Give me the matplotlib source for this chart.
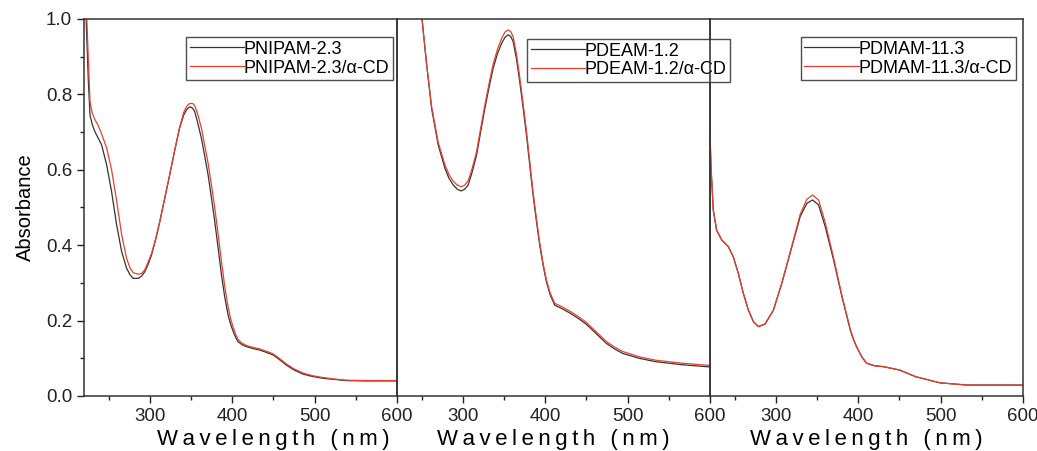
import numpy as np
import matplotlib.pyplot as plt
from matplotlib.ticker import MultipleLocator

plt.rcParams['font.family'] = ['Liberation Sans', 'DejaVu Sans']

# PNIPAM-2.3 (panel 1)
wl_a = [220, 222.4, 225.3, 227.3, 230, 233.3, 237, 241.4, 247.5, 253.5, 259.6, 265.7,
        271.7, 276, 279.8, 285.9, 290, 293.9, 298, 302, 307, 312, 318, 324, 330, 336,
        341, 344.5, 347, 349.3, 352, 354.5, 358, 362.6, 366.5, 370.7, 374.7, 378.8,
        382.8, 386.9, 390.9, 394.9, 398, 401, 404, 407, 412, 417, 425, 433, 441,
        449.5, 457, 465.7, 475, 485.9, 497, 510, 524, 538, 560, 580, 600]
pnipam = [1.10, 1.01, 0.834, 0.745, 0.72, 0.701, 0.685, 0.666, 0.613, 0.542, 0.454,
          0.383, 0.339, 0.321, 0.312, 0.312, 0.318, 0.330, 0.350, 0.374, 0.415, 0.462,
          0.524, 0.586, 0.650, 0.710, 0.745, 0.759, 0.765, 0.767, 0.763, 0.754, 0.725,
          0.683, 0.637, 0.586, 0.526, 0.462, 0.393, 0.321, 0.262, 0.215, 0.19, 0.172,
          0.156, 0.144, 0.136, 0.131, 0.126, 0.122, 0.116, 0.109, 0.097, 0.082, 0.069,
          0.058, 0.052, 0.047, 0.044, 0.041, 0.040, 0.040, 0.040]
pnipam_cd = [1.15, 1.06, 0.89, 0.78, 0.75, 0.733, 0.719, 0.695, 0.658, 0.600, 0.518,
             0.428, 0.365, 0.339, 0.327, 0.323, 0.325, 0.335, 0.356, 0.378, 0.417, 0.463,
             0.525, 0.587, 0.651, 0.712, 0.752, 0.768, 0.774, 0.776, 0.776, 0.770, 0.748,
             0.710, 0.665, 0.617, 0.560, 0.498, 0.430, 0.357, 0.290, 0.237, 0.205, 0.183,
             0.164, 0.150, 0.140, 0.134, 0.129, 0.125, 0.119, 0.112, 0.100, 0.085, 0.072,
             0.061, 0.054, 0.049, 0.045, 0.042, 0.041, 0.041, 0.041]

# PDEAM-1.2 (panel 2)
wl_b = [220, 230, 240, 245, 249.9, 256, 262, 270, 278.2, 283, 288.2, 293, 297.6, 302,
        306.4, 311, 316.6, 321.5, 326.7, 331.7, 336.7, 342, 346.9, 351, 354.9, 358,
        361, 365, 369, 373, 377.2, 381.2, 385.2, 389.3, 393.3, 397.4, 401.4, 406,
        411.5, 420, 430, 440, 450, 462, 474, 484, 494, 514, 534, 566, 600]
pdeam = [1.65, 1.45, 1.23, 1.12, 1.01, 0.878, 0.763, 0.666, 0.604, 0.578, 0.560, 0.549,
         0.544, 0.548, 0.560, 0.592, 0.639, 0.700, 0.763, 0.818, 0.869, 0.908, 0.935,
         0.951, 0.958, 0.954, 0.940, 0.895, 0.834, 0.766, 0.692, 0.612, 0.533, 0.463,
         0.400, 0.346, 0.303, 0.268, 0.241, 0.232, 0.220, 0.206, 0.190, 0.165, 0.140,
         0.125, 0.113, 0.100, 0.091, 0.083, 0.077]
pdeam_cd = [1.65, 1.45, 1.23, 1.12, 1.01, 0.880, 0.768, 0.673, 0.613, 0.588, 0.570, 0.560,
            0.555, 0.559, 0.571, 0.602, 0.648, 0.709, 0.772, 0.828, 0.880, 0.920, 0.948,
            0.965, 0.971, 0.967, 0.953, 0.908, 0.846, 0.777, 0.702, 0.621, 0.541, 0.470,
            0.406, 0.351, 0.308, 0.273, 0.246, 0.237, 0.225, 0.211, 0.195, 0.170, 0.145,
            0.130, 0.118, 0.104, 0.095, 0.087, 0.081]

# PDMAM-11.3 (panel 3)
wl_c = [220, 221.2, 224, 228, 234.2, 242.3, 248.3, 254.4, 260.5, 266.6, 272.7, 278.8,
        286.9, 297, 307.2, 319.4, 329.5, 337.6, 344.5, 351.8, 359.9, 370, 380.2, 390.3,
        394.3, 398, 404, 410, 420, 430, 450, 470, 499, 532, 600]
pdmam = [0.697, 0.608, 0.493, 0.440, 0.414, 0.396, 0.369, 0.325, 0.272, 0.228, 0.197,
         0.184, 0.191, 0.228, 0.299, 0.396, 0.476, 0.511, 0.520, 0.507, 0.449, 0.361,
         0.263, 0.175, 0.149, 0.130, 0.105, 0.087, 0.080, 0.078, 0.069, 0.051, 0.035,
         0.029, 0.029]
pdmam_cd = [0.697, 0.608, 0.493, 0.440, 0.414, 0.396, 0.369, 0.325, 0.272, 0.228, 0.197,
            0.184, 0.191, 0.228, 0.300, 0.398, 0.482, 0.522, 0.533, 0.520, 0.460, 0.367,
            0.266, 0.177, 0.150, 0.131, 0.105, 0.087, 0.080, 0.078, 0.069, 0.051, 0.035,
            0.029, 0.029]

panels = [
    (wl_a, pnipam, pnipam_cd, 'PNIPAM-2.3', 'PNIPAM-2.3/\u03b1-CD', 'upper right', (0.987, 0.952)),
    (wl_b, pdeam, pdeam_cd, 'PDEAM-1.2', 'PDEAM-1.2/\u03b1-CD', 'upper left', (0.415, 0.947)),
    (wl_c, pdmam, pdmam_cd, 'PDMAM-11.3', 'PDMAM-11.3/\u03b1-CD', 'upper left', (0.29, 0.952)),
]
label_x = [0.605, 0.5, 0.5]

fig = plt.figure(figsize=(10.37, 4.51), dpi=100)
lefts = [84, 397, 710]
for i, (wl, a, b, la, lb, loc, anchor) in enumerate(panels):
    ax = fig.add_axes([lefts[i] / 1037, (451 - 396) / 451, 313 / 1037, 377 / 451])
    ax.patch.set_alpha(0)
    ax.plot(wl, a, color='#333333', lw=0.9, label=la)
    ax.plot(wl, b, color='#e8402f', lw=0.9, label=lb)
    ax.set_xlim(220, 600)
    ax.set_ylim(0, 1.0)
    ax.xaxis.set_major_locator(MultipleLocator(100))
    ax.xaxis.set_minor_locator(MultipleLocator(50))
    ax.yaxis.set_major_locator(MultipleLocator(0.2))
    ax.yaxis.set_minor_locator(MultipleLocator(0.1))
    ax.tick_params(which='both', direction='out', labelsize=13.5, colors='#222222')
    ax.tick_params(which='major', length=5, width=1)
    ax.tick_params(which='minor', length=3, width=1)
    for s in ax.spines.values():
        s.set_color('#333333')
        s.set_linewidth(1.1)
    if i == 0:
        ax.yaxis.set_major_formatter(plt.FuncFormatter(lambda v, p: f'{v:.1f}'))
        ax.set_ylabel('Absorbance', fontsize=14.5, labelpad=8)
    else:
        ax.tick_params(axis='y', which='both', left=False, labelleft=False)
    ax.set_xlabel('W\u2009a\u2009v\u2009e\u2009l\u2009e\u2009n\u2009g\u2009t\u2009h\u2009 \u2009(\u2009n\u2009m\u2009)',
                  fontsize=16)
    ax.xaxis.set_label_coords(label_x[i], -0.088)
    leg = ax.legend(loc=loc, bbox_to_anchor=anchor, fontsize=13, frameon=True,
                    fancybox=False, edgecolor='#222222', handlelength=3.0,
                    handletextpad=0, borderpad=0.2, labelspacing=0.1,
                    borderaxespad=0)
    leg.get_frame().set_linewidth(1.0)
    leg.set_zorder(10)

fig.savefig('out.png', dpi=100, facecolor='white')
